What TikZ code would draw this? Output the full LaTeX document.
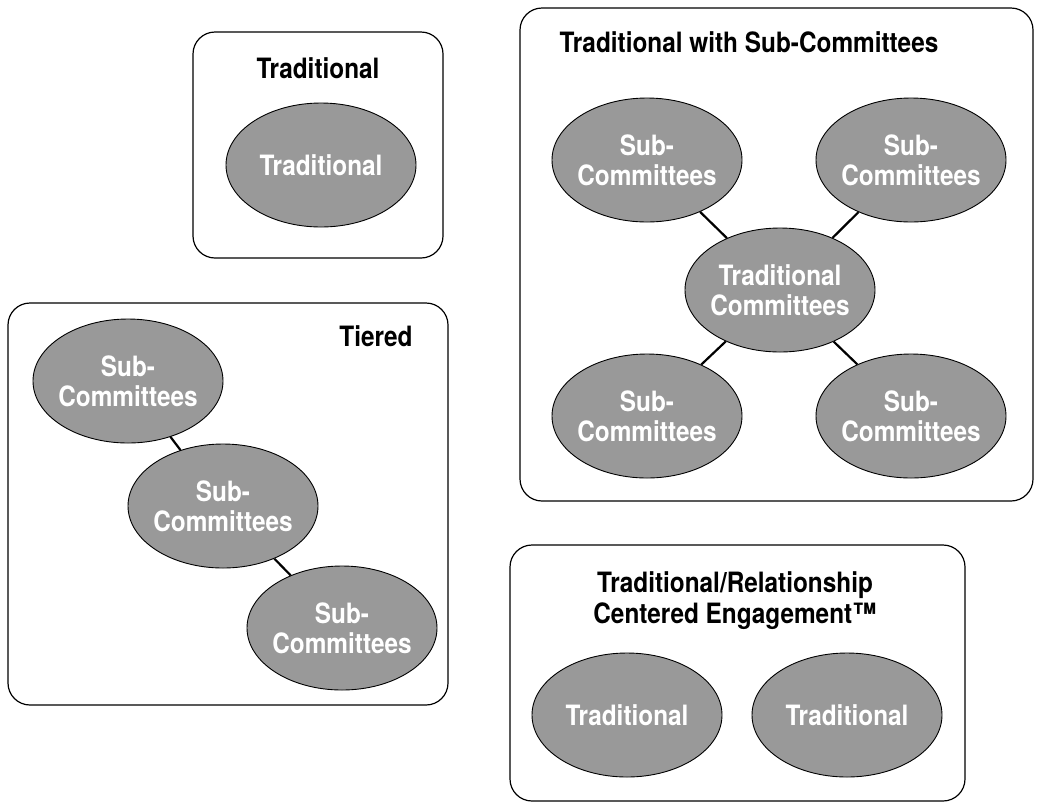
\documentclass[tikz,border=0pt]{standalone}
\usepackage{fontspec}
\setmainfont{TeX Gyre Heros}[FakeStretch=0.87]
\usetikzlibrary{shapes.geometric}

\begin{document}
\begin{tikzpicture}[x=1pt,y=-1pt,
        frame/.style={draw,line width=1.2pt,rounded corners=22pt},
        title/.style={font=\bfseries\fontsize{28}{31}\selectfont,align=center},
        link/.style={line width=2.2pt}]
    \useasboundingbox (0,0) rectangle (1046,804);

    % frames
    \draw[frame] (193,32) rectangle (443,258);
    \draw[frame] (520,8) rectangle (1033,501);
    \draw[frame] (8,303) rectangle (448,705);
    \draw[frame] (510,545) rectangle (965,801);

    \node[title] (tTrad) at (318,68) {Traditional};
    \node[title] (tSub) at (749,42) {Traditional with Sub-Committees};
    \node[title] (tTier) at (376,336) {Tiered};
    \node[title] (tRel) at (735,601) {Traditional/Relationship\\Centered Engagement™};

    \begin{scope}[every node/.style={ellipse,draw,line width=0.9pt,fill=black!40,
                    text=white,inner xsep=-9pt,inner ysep=0pt,
                    minimum width=190pt,minimum height=124pt,
                    font=\bfseries\fontsize{28}{30}\selectfont,align=center}]
        \node (trad) at (321,165) {Traditional};

        \node (subA) at (647,160) {Sub-\\Committees};
        \node (subB) at (911,160) {Sub-\\Committees};
        \node (core) at (780,290) {Traditional\\Committees};
        \node (subC) at (647,416) {Sub-\\Committees};
        \node (subD) at (911,416) {Sub-\\Committees};

        \node (tierA) at (128,381) {Sub-\\Committees};
        \node (tierB) at (223,506) {Sub-\\Committees};
        \node (tierC) at (342,628) {Sub-\\Committees};

        \node (relA) at (627,715) {Traditional};
        \node (relB) at (847,715) {Traditional};
    \end{scope}

    \path[link] (core) edge (subA);
    \path[link] (core) edge (subB);
    \path[link] (core) edge (subC);
    \path[link] (core) edge (subD);
    \path[link] (tierA) edge (tierB);
    \path[link] (tierB) edge (tierC);
\end{tikzpicture}
\end{document}
